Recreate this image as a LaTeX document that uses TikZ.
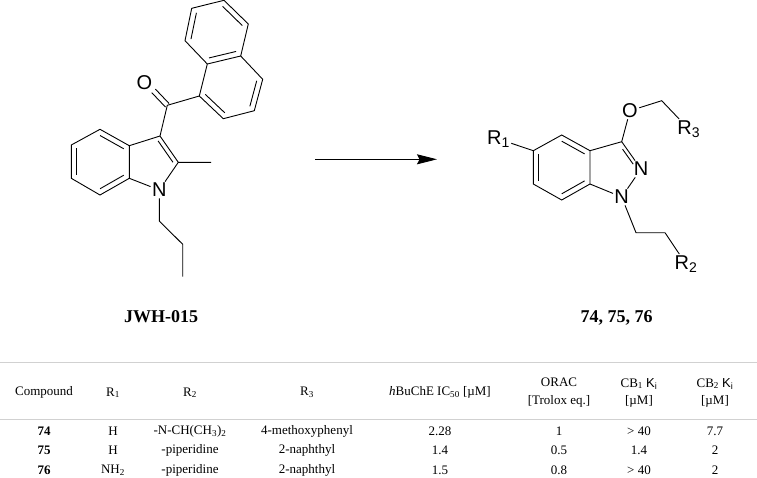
\documentclass[tikz,border=0pt]{standalone}
\usepackage{fontspec}
\setmainfont{Liberation Serif}
\newfontfamily\molfont{Liberation Sans}
\usetikzlibrary{arrows.meta}
\usetikzlibrary{calc}
\tikzset{
  bond/.style={black, line width=0.9pt},
  atom/.style={font=\molfont\fontsize{20}{20}\selectfont, inner sep=0pt, outer sep=1.5pt},
  tablerule/.style={draw=black!18, line width=0.8pt},
  cell/.style={font=\fontsize{13}{17.5}\selectfont, align=center, inner sep=0pt},
  idcell/.style={cell, font=\bfseries\fontsize{13}{17.5}\selectfont},
  caption/.style={font=\bfseries\fontsize{18}{18}\selectfont, inner sep=0pt}
}
\newcommand{\ringbond}[3]{\draw[bond] ($(#1)!0.19!(#3)$) -- ($(#2)!0.19!(#3)$);}
\newcommand{\kconst}{{\molfont K\textsubscript{i}}}
\begin{document}
\begin{tikzpicture}[x=1pt,y=-1pt]
  \useasboundingbox (0,0) rectangle (757,477);

  % JWH-015
  \coordinate (a1) at (191.7,8.3);
  \coordinate (a2) at (224,0.3);
  \coordinate (a3) at (248.3,24);
  \coordinate (a4) at (240.7,56);
  \coordinate (a5) at (207.3,64);
  \coordinate (a6) at (185,40.7);
  \coordinate (a7) at (262.7,79.3);
  \coordinate (a8) at (254.3,110.7);
  \coordinate (a9) at (223.3,118.7);
  \coordinate (a10) at (199.3,96);
  \coordinate (upper) at (216.5,32);
  \coordinate (lower) at (231,87.5);
  \coordinate (co) at (167.3,105.3);
  \node[atom] (oxo) at (144.3,82.3) {O};
  \coordinate (c3) at (160,136);
  \coordinate (c2) at (178.3,162.3);
  \coordinate (me) at (211,162.3);
  \node[atom] (n1) at (159.3,190) {N};
  \coordinate (c7a) at (129.3,178.3);
  \coordinate (c3a) at (129.3,145.7);
  \coordinate (c4) at (100,129.3);
  \coordinate (c5) at (71.3,145);
  \coordinate (c6) at (71.3,178.3);
  \coordinate (c7) at (100,195);
  \coordinate (benz) at (100.3,162);
  \coordinate (pyr) at (150,162);
  \coordinate (p1) at (159.3,221);
  \coordinate (p2) at (182.7,244.3);
  \coordinate (p3) at (182.7,276.7);

  \draw[bond] (a5) -- (a6) -- (a1) -- (a2) -- (a3) -- (a4) -- (a5);
  \draw[bond] (a4) -- (a7) -- (a8) -- (a9) -- (a10) -- (a5);
  \ringbond{a6}{a1}{upper}
  \ringbond{a2}{a3}{upper}
  \ringbond{a4}{a5}{upper}
  \ringbond{a7}{a8}{lower}
  \ringbond{a9}{a10}{lower}
  \draw[bond] (a10) -- (co) -- (c3) -- (c2) -- (me);
  \draw[bond] ([shift={(1.8,-1.8)}]co) -- ([shift={(1.8,-1.8)}]oxo.south east);
  \draw[bond] ([shift={(-1.8,1.8)}]co) -- ([shift={(-1.8,1.8)}]oxo.south east);
  \draw[bond] (c2) -- (n1);
  \draw[bond] (n1) -- (c7a) -- (c3a) -- (c3);
  \draw[bond] (c3a) -- (c4) -- (c5) -- (c6) -- (c7) -- (c7a);
  \ringbond{c3}{c2}{pyr}
  \ringbond{c3a}{c4}{benz}
  \ringbond{c5}{c6}{benz}
  \ringbond{c7}{c7a}{benz}
  \draw[bond] (n1) -- (p1) -- (p2) -- (p3);
  \node[caption] (jwh) at (161,317) {JWH-015};

  % reaction arrow
  \coordinate (start) at (315,159.3);
  \coordinate (end) at (437,159.3);
  \draw[line width=0.9pt, -{Stealth[length=20pt,width=10pt,inset=2.5pt]}] (start) -- (end);

  % indazole
  \coordinate (i5) at (533.3,150.7);
  \coordinate (i4) at (561.7,135);
  \coordinate (i3a) at (590,150.7);
  \coordinate (i7a) at (590,184);
  \coordinate (i7) at (561.7,200);
  \coordinate (i6) at (533.3,184);
  \coordinate (i3) at (621.7,141.7);
  \coordinate (ring) at (561.7,167.5);
  \node[atom] (n2) at (641,169) {N};
  \node[atom] (n3) at (621.7,197) {N};
  \node[atom] (ox) at (630,110.7) {O};
  \coordinate (ch) at (661.7,100.7);
  \node[atom] (r3) at (688.7,129) {R\textsubscript{3}};
  \node[atom] (r1) at (498.5,139) {R\textsubscript{1}};
  \node[atom] (r2) at (686,264) {R\textsubscript{2}};
  \coordinate (e1) at (636,232.7);
  \coordinate (e2) at (665,232.7);

  \draw[bond] (i5) -- (i4) -- (i3a) -- (i7a) -- (i7) -- (i6) -- (i5);
  \ringbond{i5}{i6}{ring}
  \ringbond{i4}{i3a}{ring}
  \ringbond{i7a}{i7}{ring}
  \draw[bond] (i3a) -- (i3) -- (n2);
  \draw[bond] ($(i3)!0.2!(n2)+(-3,2)$) -- ($(i3)!0.75!(n2)+(-3,2)$);
  \draw[bond] (n2) -- (n3);
  \draw[bond] (n3) -- (i7a);
  \draw[bond] (i3) -- (ox) -- (ch) -- (r3);
  \draw[bond] (r1) -- (i5);
  \draw[bond] (n3) -- (e1) -- (e2) -- (r2);
  \node[caption] (series) at (616.7,318) {74, 75, 76};

  % table
  \coordinate (t1) at (0,362.5);
  \coordinate (t2) at (757,362.5);
  \coordinate (t3) at (0,419);
  \coordinate (t4) at (757,419);
  \draw[tablerule] (t1) -- (t2);
  \draw[tablerule] (t3) -- (t4);

  \node[cell] (h1) at (44,392.7) {Compound};
  \node[cell] (h2) at (113,392.7) {R\textsubscript{1}};
  \node[cell] (h3) at (190,392.7) {R\textsubscript{2}};
  \node[cell] (h4) at (307,392.7) {R\textsubscript{3}};
  \node[cell] (h5) at (440,392.7) {\textit{h}BuChE IC\textsubscript{50} [µM]};
  \node[cell] (h6) at (559,392.7) {ORAC\\{}[Trolox eq.]};
  \node[cell] (h7) at (639,392.7) {CB\textsubscript{1} \kconst\\{}[µM]};
  \node[cell] (h8) at (715,392.7) {CB\textsubscript{2} \kconst\\{}[µM]};

  \node[idcell] (r74) at (44,431) {74};
  \node[cell] (r74a) at (113,431) {H};
  \node[cell] (r74b) at (190,431) {-N-CH(CH\textsubscript{3})\textsubscript{2}};
  \node[cell] (r74c) at (307,431) {4-methoxyphenyl};
  \node[cell] (r74d) at (440,431) {2.28};
  \node[cell] (r74e) at (559,431) {1};
  \node[cell] (r74f) at (639,431) {> 40};
  \node[cell] (r74g) at (715,431) {7.7};

  \node[idcell] (r75) at (44,450) {75};
  \node[cell] (r75a) at (113,450) {H};
  \node[cell] (r75b) at (190,450) {-piperidine};
  \node[cell] (r75c) at (307,450) {2-naphthyl};
  \node[cell] (r75d) at (440,450) {1.4};
  \node[cell] (r75e) at (559,450) {0.5};
  \node[cell] (r75f) at (639,450) {1.4};
  \node[cell] (r75g) at (715,450) {2};

  \node[idcell] (r76) at (44,470) {76};
  \node[cell] (r76a) at (113,470) {NH\textsubscript{2}};
  \node[cell] (r76b) at (190,470) {-piperidine};
  \node[cell] (r76c) at (307,470) {2-naphthyl};
  \node[cell] (r76d) at (440,470) {1.5};
  \node[cell] (r76e) at (559,470) {0.8};
  \node[cell] (r76f) at (639,470) {> 40};
  \node[cell] (r76g) at (715,470) {2};
\end{tikzpicture}
\end{document}
